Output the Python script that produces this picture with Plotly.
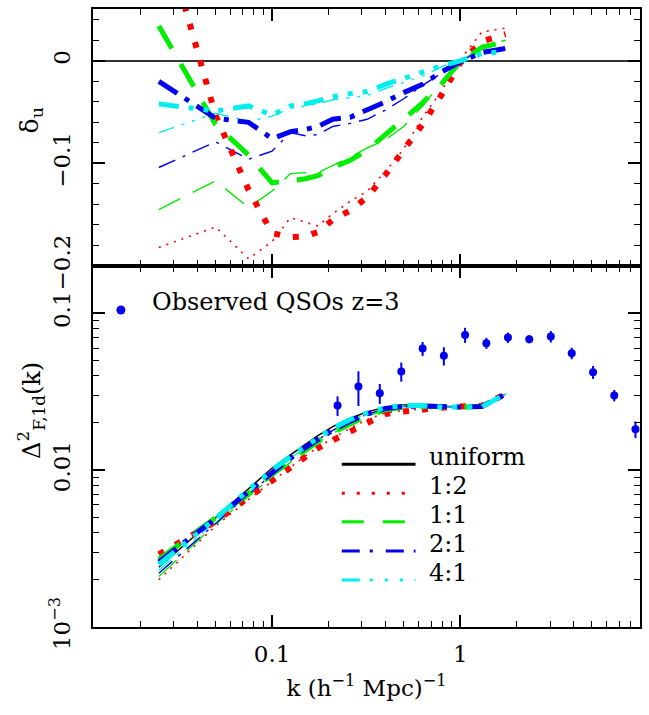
import plotly.graph_objects as go

# ---------------- data ----------------
k_sim = [0.025, 0.05, 0.075, 0.10, 0.125, 0.15, 0.175, 0.21, 0.26, 0.32,
         0.40, 0.50, 0.63, 0.79, 1.0, 1.3, 1.74]

# top panel: delta_u (thick / thin)
du_12_thick = [0.143, -0.053, -0.126, -0.168, -0.172, -0.171, -0.167, -0.155, -0.146, -0.133,
               -0.111, -0.088, -0.062, -0.034, -0.002, 0.019, 0.026]
du_12_thin = [-0.182, -0.162, -0.193, -0.176, -0.153, -0.157, -0.161, -0.149, -0.137, -0.127,
              -0.108, -0.086, -0.055, -0.030, 0.001, 0.028, 0.032]
du_11_thick = [0.034, -0.062, -0.092, -0.119, -0.117, -0.115, -0.112, -0.104, -0.097, -0.087,
               -0.072, -0.057, -0.041, -0.023, -0.001, 0.013, 0.019]
du_11_thin = [-0.145, -0.117, -0.143, -0.127, -0.110, -0.109, -0.109, -0.102, -0.094, -0.085,
              -0.077, -0.064, -0.044, -0.022, -0.002, 0.015, 0.020]
du_21_thick = [-0.020, -0.056, -0.060, -0.076, -0.069, -0.067, -0.064, -0.057, -0.055, -0.048,
               -0.040, -0.031, -0.023, -0.011, -0.001, 0.008, 0.012]
du_21_thin = [-0.104, -0.079, -0.096, -0.088, -0.070, -0.073, -0.072, -0.064, -0.061, -0.057,
              -0.048, -0.037, -0.024, -0.012, 0.000, 0.010, 0.012]
du_41_thick = [-0.042, -0.049, -0.044, -0.053, -0.044, -0.042, -0.039, -0.035, -0.032, -0.030,
               -0.023, -0.017, -0.012, -0.005, 0.000, 0.007, 0.009]
du_41_thin = [-0.070, -0.051, -0.059, -0.054, -0.046, -0.044, -0.042, -0.038, -0.036, -0.034,
              -0.027, -0.021, -0.015, -0.006, 0.001, 0.009, 0.011]

# bottom panel: Delta^2_F,1d(k)
p_uniform = [0.0024, 0.0050, 0.0077, 0.0103, 0.0125, 0.0145, 0.0166, 0.0189, 0.0214, 0.0235,
             0.0252, 0.0260, 0.0261, 0.0255, 0.0254, 0.0254, 0.0305]
p_12_thick = [0.0029, 0.0047, 0.0067, 0.0086, 0.0104, 0.0120, 0.0138, 0.0155, 0.0177, 0.0197,
              0.0228, 0.0236, 0.0244, 0.0250, 0.0254, 0.0257, 0.0305]
p_12_thin = [0.0020, 0.0044, 0.0065, 0.0085, 0.0105, 0.0123, 0.0140, 0.0160, 0.0185, 0.0210,
             0.0232, 0.0240, 0.0246, 0.0250, 0.0254, 0.0257, 0.0304]
p_11_thick = [0.0027, 0.0050, 0.0071, 0.0094, 0.0114, 0.0133, 0.0152, 0.0173, 0.0198, 0.0222,
              0.0242, 0.0252, 0.0255, 0.0252, 0.0252, 0.0255, 0.0305]
p_11_thin = [0.0021, 0.0045, 0.0068, 0.0091, 0.0112, 0.0131, 0.0150, 0.0172, 0.0197, 0.0221,
             0.0241, 0.0251, 0.0254, 0.0252, 0.0252, 0.0255, 0.0304]
p_21_thick = [0.0026, 0.0049, 0.0073, 0.0097, 0.0119, 0.0139, 0.0158, 0.0180, 0.0205, 0.0228,
              0.0247, 0.0255, 0.0256, 0.0252, 0.0252, 0.0254, 0.0305]
p_21_thin = [0.0022, 0.0046, 0.0070, 0.0094, 0.0116, 0.0136, 0.0156, 0.0179, 0.0204, 0.0227,
             0.0246, 0.0254, 0.0256, 0.0252, 0.0252, 0.0254, 0.0304]
p_41_thick = [0.0025, 0.0049, 0.0075, 0.0100, 0.0122, 0.0142, 0.0162, 0.0185, 0.0210, 0.0232,
              0.0250, 0.0258, 0.0258, 0.0252, 0.0252, 0.0253, 0.0305]
p_41_thin = [0.0023, 0.0047, 0.0072, 0.0097, 0.0119, 0.0139, 0.0159, 0.0182, 0.0207, 0.0230,
             0.0248, 0.0256, 0.0257, 0.0252, 0.0252, 0.0253, 0.0304]

# observed QSOs z=3
k_obs = [0.2226, 0.2875, 0.3733, 0.4857, 0.6305, 0.8177, 1.060, 1.376, 1.791, 2.326,
         3.027, 3.910, 5.077, 6.58, 8.53]
p_obs = [0.0258, 0.0341, 0.0309, 0.0425, 0.0595, 0.0535, 0.0727, 0.0644, 0.0699, 0.0683,
         0.0710, 0.0556, 0.0421, 0.0299, 0.0182]
p_obs_err = [0.0037, 0.0085, 0.0045, 0.0059, 0.0061, 0.0071, 0.0080, 0.0052, 0.0054, 0.0040,
             0.0059, 0.0047, 0.0040, 0.0025, 0.0022]

legend_labels = ["uniform", "1:2", "1:1", "2:1", "4:1"]
x_ticks = [0.1, 1]
x_ticktext = ["0.1", "1"]
du_ticks = [-0.2, -0.1, 0]
du_ticktext = ["\u22120.2", "\u22120.1", "0"]
p_ticks = [0.001, 0.01, 0.1]
p_ticktext = ["10<sup>\u22123</sup>", "0.01", "0.1"]

# ---------------- styles ----------------
RED, GREEN, BLUE, CYAN = "#ff0000", "#00ee00", "#0000ee", "#00eeee"
FONT = "DejaVu Serif"

sty_thick = {
    "red": dict(color=RED, width=6, dash="6px,13px"),
    "green": dict(color=GREEN, width=5, dash="26px,18px"),
    "blue": dict(color=BLUE, width=5, dash="22px,9px,5px,9px"),
    "cyan": dict(color=CYAN, width=5, dash="20px,10px,5px,10px,5px,10px,5px,10px"),
}
sty_thin = {
    "red": dict(color=RED, width=1.6, dash="2px,6px"),
    "green": dict(color=GREEN, width=1.4, dash="24px,14px"),
    "blue": dict(color=BLUE, width=1.4, dash="18px,8px,3px,8px"),
    "cyan": dict(color=CYAN, width=1.4, dash="16px,8px,3px,8px,3px,8px,3px,8px"),
}
sty_leg = [
    dict(color="black", width=3),
    dict(color=RED, width=3, dash="3px,12px"),
    dict(color=GREEN, width=3, dash="22px,19px"),
    dict(color=BLUE, width=3, dash="18px,10px,3px,13px"),
    dict(color=CYAN, width=3, dash="18px,10px,3px,12px,3px,12px,3px,12px"),
]

fig = go.Figure()

# top panel (xaxis2 / yaxis2)
top_series = [("red", du_12_thin, du_12_thick), ("green", du_11_thin, du_11_thick),
              ("blue", du_21_thin, du_21_thick), ("cyan", du_41_thin, du_41_thick)]
for c, thin, thick in top_series:
    fig.add_trace(go.Scatter(x=k_sim, y=thin, mode="lines", line=sty_thin[c],
                             xaxis="x2", yaxis="y2", showlegend=False))
for c, thin, thick in top_series:
    fig.add_trace(go.Scatter(x=k_sim, y=thick, mode="lines", line=sty_thick[c],
                             xaxis="x2", yaxis="y2", showlegend=False))

# bottom panel
fig.add_trace(go.Scatter(x=k_sim, y=p_uniform, mode="lines",
                         line=dict(color="black", width=1.4), showlegend=False))
bot_series = [("red", p_12_thin, p_12_thick), ("green", p_11_thin, p_11_thick),
              ("blue", p_21_thin, p_21_thick), ("cyan", p_41_thin, p_41_thick)]
for c, thin, thick in bot_series:
    fig.add_trace(go.Scatter(x=k_sim, y=thin, mode="lines", line=sty_thin[c], showlegend=False))
for c, thin, thick in bot_series:
    fig.add_trace(go.Scatter(x=k_sim, y=thick, mode="lines", line=sty_thick[c], showlegend=False))

fig.add_trace(go.Scatter(x=k_obs, y=p_obs, mode="markers",
                         marker=dict(color=BLUE, size=8),
                         error_y=dict(type="data", array=p_obs_err, color=BLUE,
                                      thickness=2, width=0),
                         showlegend=False))

# ---------------- axes ----------------
X_RANGE = [-1.952, 0.955]
minor_x = [m * d for d in (0.01, 0.1, 1) for m in range(2, 10)]
minor_p = [m * d for d in (0.001, 0.01, 0.1) for m in range(2, 10)]
minor_du = [-0.18, -0.16, -0.14, -0.12, -0.08, -0.06, -0.04, -0.02, 0.02, 0.04]

axis_common = dict(showline=True, linecolor="black", linewidth=2, mirror="allticks",
                   ticks="inside", ticklen=12, tickwidth=1.6, tickcolor="black",
                   showgrid=False, zeroline=False,
                   tickfont=dict(family=FONT, size=23, color="black"))

BOT_TOP = 0.5842
fig.update_layout(
    width=649, height=715,
    margin=dict(l=93, r=7, t=9, b=88),
    paper_bgcolor="white", plot_bgcolor="white",
    showlegend=False,
    xaxis=dict(type="log", range=X_RANGE, domain=[0, 1], anchor="y",
               tickvals=x_ticks, ticktext=x_ticktext, ticklabelstandoff=5,
               minor=dict(tickvals=minor_x, ticks="inside", ticklen=6, tickwidth=1.4,
                          tickcolor="black", showgrid=False),
               title=dict(text="k (h<sup>\u22121</sup> Mpc)<sup>\u22121</sup>",
                          font=dict(family=FONT, size=23, color="black"), standoff=14),
               **axis_common),
    yaxis=dict(type="log", range=[-3, -0.699], domain=[0, BOT_TOP], anchor="x",
               tickvals=p_ticks, ticktext=p_ticktext, tickangle=-90, ticklabelstandoff=12,
               minor=dict(tickvals=minor_p, ticks="inside", ticklen=6, tickwidth=1.4,
                          tickcolor="black", showgrid=False),
               **axis_common),
    xaxis2=dict(type="log", range=X_RANGE, domain=[0, 1], anchor="y2", matches="x",
                tickvals=x_ticks, showticklabels=False,
                minor=dict(tickvals=minor_x, ticks="inside", ticklen=6, tickwidth=1.4,
                           tickcolor="black", showgrid=False),
                **axis_common),
    yaxis2=dict(range=[-0.2, 0.0505], domain=[BOT_TOP, 1], anchor="x2",
                tickvals=du_ticks, ticktext=du_ticktext, tickangle=-90, ticklabelstandoff=12,
                minor=dict(tickvals=minor_du, ticks="inside", ticklen=6, tickwidth=1.4,
                           tickcolor="black", showgrid=False),
                **axis_common),
)
fig.update_yaxes(selector=dict(anchor="x2"), zeroline=True, zerolinecolor="#333333",
                 zerolinewidth=2)

# ---------------- axis titles ----------------
fig.add_annotation(text="\u03b4<sub>u</sub>", xref="paper", yref="paper",
                   x=-0.113, y=0.82, textangle=-90, showarrow=False,
                   xanchor="center", yanchor="middle",
                   font=dict(family=FONT, size=25, color="black"))
fig.add_annotation(text="\u0394<sup>2</sup><sub>F,1d</sub>(k)", xref="paper", yref="paper",
                   x=-0.113, y=0.35, textangle=-90, showarrow=False,
                   xanchor="center", yanchor="middle",
                   font=dict(family=FONT, size=24, color="black"))

# ---------------- observed legend ----------------
fig.add_shape(type="circle", xref="paper", yref="paper", xsizemode="pixel", ysizemode="pixel",
              xanchor=0.051, yanchor=0.513, x0=-4.5, x1=4.5, y0=-4.5, y1=4.5,
              fillcolor=BLUE, line=dict(color=BLUE, width=0))
fig.add_annotation(text="Observed QSOs z=3", xref="paper", yref="paper",
                   x=0.1038, y=0.526, xanchor="left", yanchor="middle", showarrow=False,
                   font=dict(family=FONT, size=24, color="black"))

# ---------------- model legend ----------------
leg_x0, leg_x1, leg_tx = 0.4548, 0.5896, 0.611
leg_y = [0.2633, 0.2164, 0.1704, 0.1230, 0.0761]
for lab, st, yy in zip(legend_labels, sty_leg, leg_y):
    fig.add_shape(type="line", xref="paper", yref="paper", x0=leg_x0, x1=leg_x1,
                  y0=yy, y1=yy, line=st)
    fig.add_annotation(text=lab, xref="paper", yref="paper", x=leg_tx, y=yy + 0.011,
                       xanchor="left", yanchor="middle", showarrow=False,
                       font=dict(family=FONT, size=24, color="black"))

fig.write_html("out.html")
